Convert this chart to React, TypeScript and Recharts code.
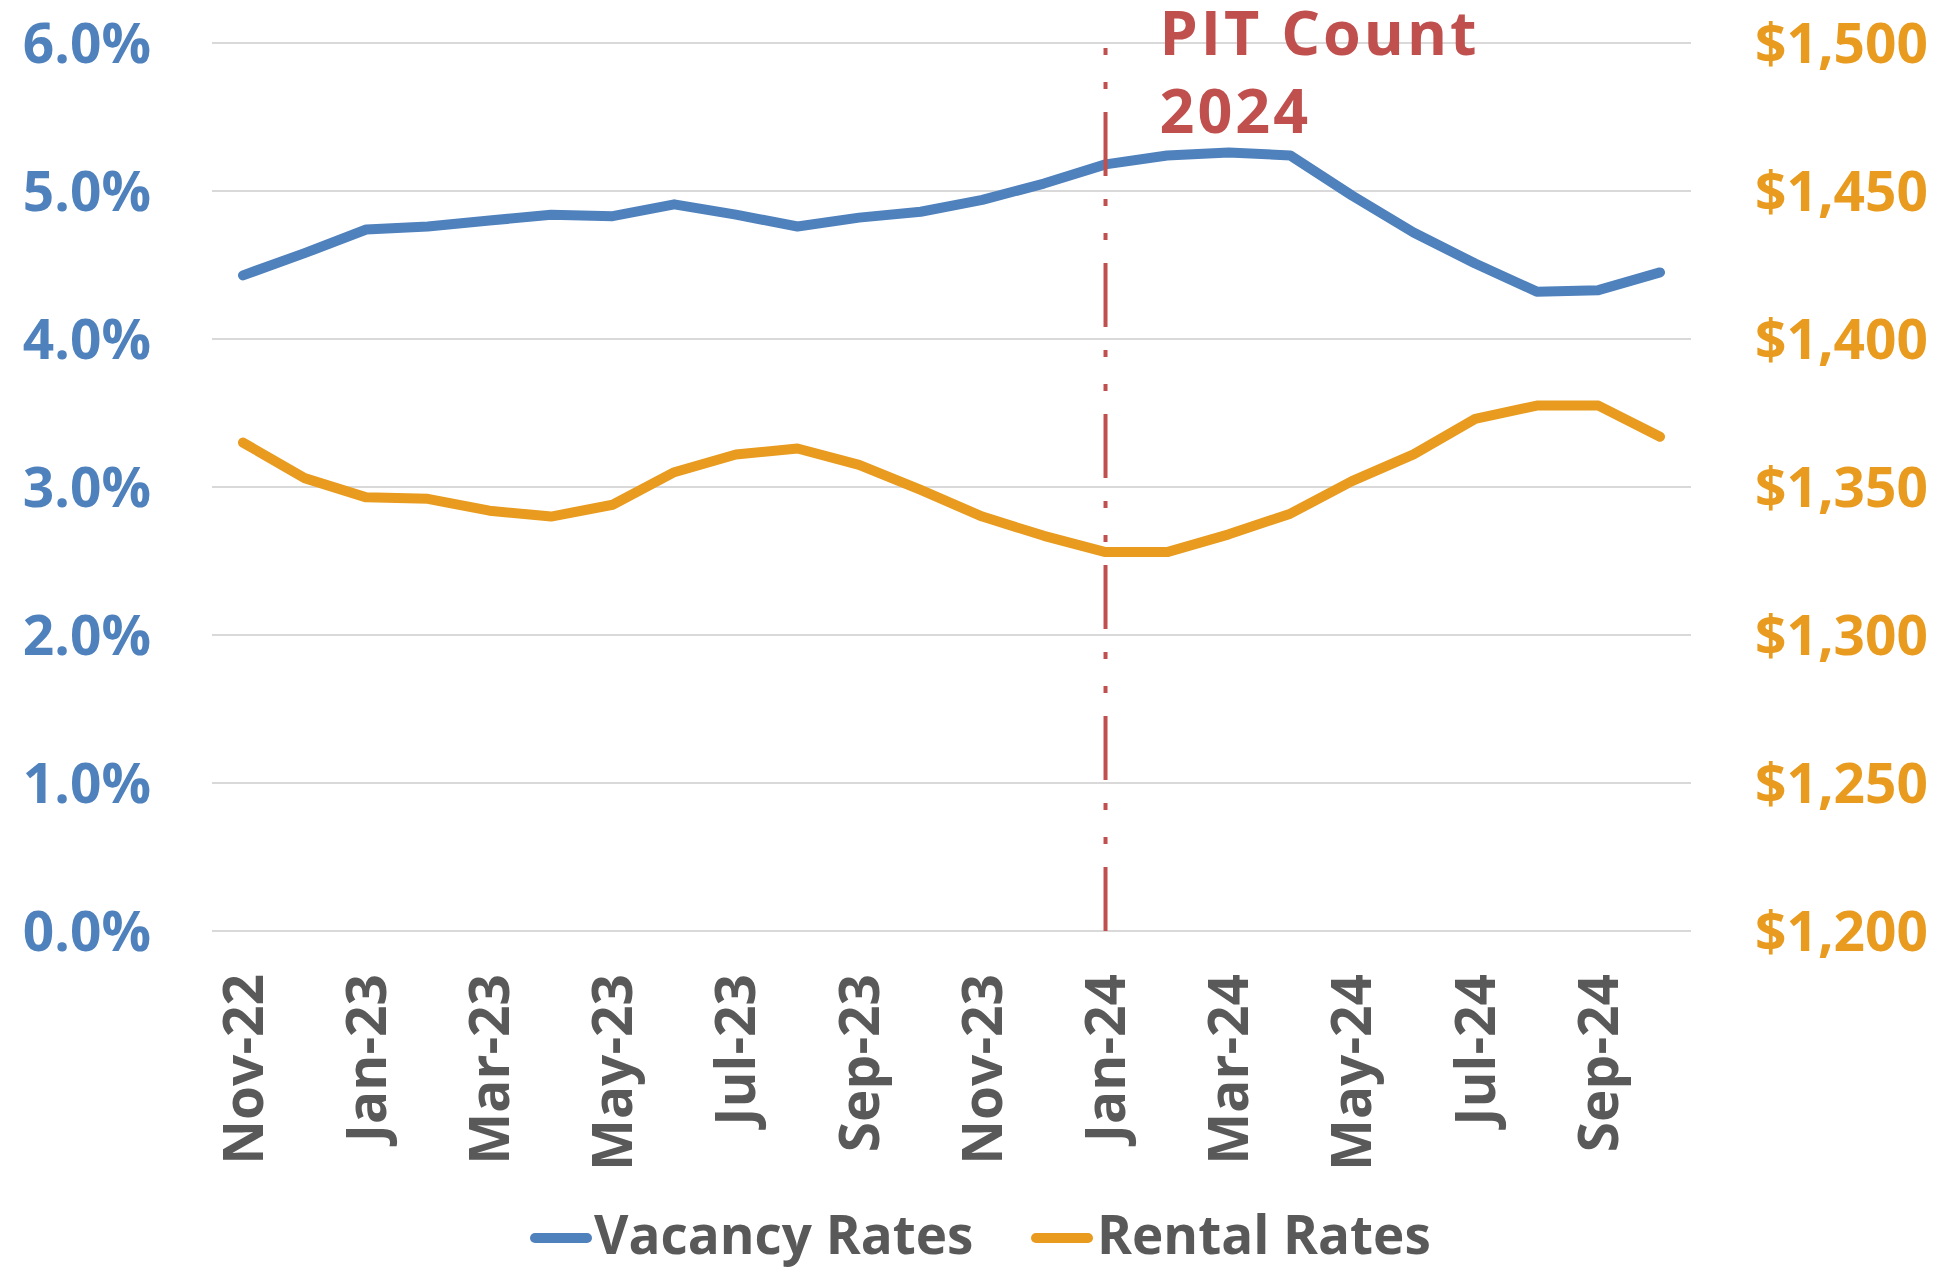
import React from "react";
import {
  CartesianGrid,
  Legend,
  Line,
  LineChart,
  ReferenceLine,
  XAxis,
  YAxis,
} from "recharts";

const months = [
  "Nov-22", "Dec-22", "Jan-23", "Feb-23", "Mar-23", "Apr-23", "May-23", "Jun-23",
  "Jul-23", "Aug-23", "Sep-23", "Oct-23", "Nov-23", "Dec-23", "Jan-24", "Feb-24",
  "Mar-24", "Apr-24", "May-24", "Jun-24", "Jul-24", "Aug-24", "Sep-24", "Oct-24",
];

// vacancy rate, percent
const vacancy = [
  4.43, 4.58, 4.74, 4.76, 4.8, 4.84, 4.83, 4.91, 4.84, 4.76, 4.82, 4.86,
  4.94, 5.05, 5.18, 5.24, 5.26, 5.24, 4.97, 4.72, 4.51, 4.32, 4.33, 4.45,
];

// average rent, dollars
const rental = [
  1365, 1353, 1346.5, 1346, 1342, 1340, 1344, 1355, 1361, 1363, 1357.5, 1349,
  1340, 1333.5, 1328, 1328, 1334, 1341, 1352, 1361, 1373, 1377.5, 1377.5, 1367,
];

const pctTicks = [0, 1, 2, 3, 4, 5, 6];
const rentTicks = [1200, 1250, 1300, 1350, 1400, 1450, 1500];

const pitMonth = "Jan-24";
const pitLines = ["PIT Count", "2024"];

const BLUE = "#4F81BD";
const ORANGE = "#E89B1E";
const RED = "#C0504D";
const GREY = "#595959";
const FONT = "'Open Sans', sans-serif";

const data = months.map((m, i) => ({
  month: m,
  vacancy: vacancy[i],
  rental: rental[i],
}));

function MonthTick({ x, y, payload }: any) {
  return (
    <text
      x={x}
      y={y}
      dy="0.355em"
      transform={`rotate(-90, ${x}, ${y})`}
      textAnchor="end"
      fill={GREY}
      fontFamily={FONT}
      fontWeight={700}
      fontSize={55}
    >
      {payload.value}
    </text>
  );
}

function PitLabel({ viewBox }: any) {
  const x = viewBox.x + 54;
  const y = viewBox.y;
  return (
    <g>
      {pitLines.map((t, i) => (
        <text
          key={t}
          x={x}
          y={y + 12 + i * 78}
          fill={RED}
          fontFamily={FONT}
          fontWeight={700}
          fontSize={61}
          letterSpacing={3}
        >
          {t}
        </text>
      ))}
    </g>
  );
}

function LegendBox() {
  const items = [
    { name: "Vacancy Rates", color: BLUE, x: 530, tx: 594 },
    { name: "Rental Rates", color: ORANGE, x: 1031, tx: 1097 },
  ];
  return (
    <svg width={1941} height={80} style={{ display: "block", overflow: "visible" }}>
      {items.map((it) => (
        <g key={it.name}>
          <line
            x1={it.x + 5}
            x2={it.x + 57}
            y1={51}
            y2={51}
            stroke={it.color}
            strokeWidth={10}
            strokeLinecap="round"
          />
          <text
            x={it.tx}
            y={67}
            fill={GREY}
            fontFamily={FONT}
            fontWeight={700}
            fontSize={53}
          >
            {it.name}
          </text>
        </g>
      ))}
    </svg>
  );
}

export default function App() {
  return (
    <div
      style={{
        position: "absolute",
        left: 0,
        top: 0,
        width: 1941,
        height: 1267,
        background: "#fff",
      }}
    >
      <LineChart
        width={1941}
        height={1267}
        data={data}
        margin={{ top: 43, right: 20, bottom: 0, left: 12 }}
      >
        <CartesianGrid
          yAxisId="left"
          vertical={false}
          stroke="#D9D9D9"
          strokeWidth={2}
        />
        <XAxis
          dataKey="month"
          interval={1}
          height={256}
          padding={{ left: 31, right: 31 }}
          axisLine={false}
          tickLine={false}
          tickSize={0}
          tickMargin={43}
          tick={<MonthTick />}
        />
        <YAxis
          yAxisId="left"
          width={200}
          domain={[0, 6]}
          ticks={pctTicks}
          axisLine={false}
          tickLine={false}
          tickSize={0}
          tickMargin={61}
          tickFormatter={(v: number) => `${v.toFixed(1)}%`}
          tick={{ fill: BLUE, fontFamily: FONT, fontWeight: 700, fontSize: 55 }}
        />
        <YAxis
          yAxisId="right"
          orientation="right"
          width={230}
          domain={[1200, 1500]}
          ticks={rentTicks}
          axisLine={false}
          tickLine={false}
          tickSize={0}
          tickMargin={64}
          tickFormatter={(v: number) => `$${v.toLocaleString("en-US")}`}
          tick={{ fill: ORANGE, fontFamily: FONT, fontWeight: 700, fontSize: 55 }}
        />
        <Legend
          verticalAlign="bottom"
          height={80}
          wrapperStyle={{ left: 0, width: 1941 }}
          content={() => <LegendBox />}
        />
        <Line
          yAxisId="left"
          type="linear"
          dataKey="vacancy"
          name="Vacancy Rates"
          stroke={BLUE}
          strokeWidth={10}
          strokeLinecap="round"
          strokeLinejoin="round"
          dot={false}
          activeDot={false}
          isAnimationActive={false}
        />
        <Line
          yAxisId="right"
          type="linear"
          dataKey="rental"
          name="Rental Rates"
          stroke={ORANGE}
          strokeWidth={10}
          strokeLinecap="round"
          strokeLinejoin="round"
          dot={false}
          activeDot={false}
          isAnimationActive={false}
        />
        <ReferenceLine
          yAxisId="left"
          x={pitMonth}
          stroke={RED}
          strokeWidth={4}
          strokeDasharray="64 23 7 27 7 23"
          label={(p: any) => <PitLabel {...p} />}
        />
      </LineChart>
    </div>
  );
}
